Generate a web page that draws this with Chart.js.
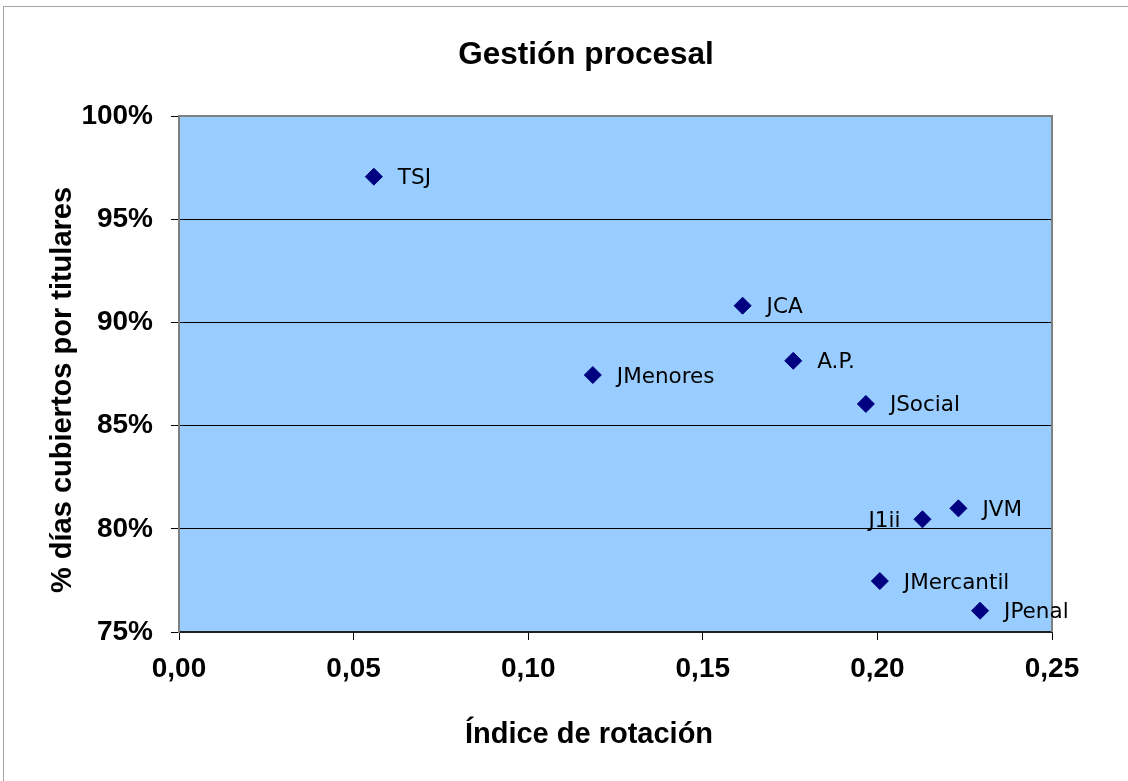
<!DOCTYPE html>
<html lang="es">
<head>
<meta charset="utf-8">
<title>Gestión procesal</title>
<script src="https://cdn.jsdelivr.net/npm/chart.js@4.4.1/dist/chart.umd.min.js"></script>
<style>
  html, body { margin: 0; padding: 0; background: #fff; }
  #marco { position: absolute; left: 3px; top: 6px; width: 1140px; height: 800px; border: 1px solid #a6a6a6; box-sizing: border-box; }
  #grafico { position: absolute; left: 0; top: 0; }
</style>
</head>
<body>
<div id="marco"></div>
<canvas id="grafico" width="1128" height="781"></canvas>
<script>
// órganos judiciales: índice de rotación frente a % de días cubiertos por titulares
const organos = ['TSJ', 'JCA', 'JMenores', 'A.P.', 'JSocial', 'J1ii', 'JVM', 'JMercantil', 'JPenal'];
const indiceRotacion = [0.0558, 0.1614, 0.1185, 0.1759, 0.1967, 0.2129, 0.2232, 0.2007, 0.2294];
const diasCubiertos = [97.06, 90.81, 87.45, 88.14, 86.05, 80.46, 80.99, 77.47, 76.03];
const etiquetasX = ['0,00', '0,05', '0,10', '0,15', '0,20', '0,25'];
const etiquetasY = ['75%', '80%', '85%', '90%', '95%', '100%'];
const etiquetaIzquierda = ['J1ii']; // estas van a la izquierda del punto

Chart.defaults.font.family = '"Liberation Sans", Arial, sans-serif';
Chart.defaults.color = '#000';

// fondo azul del área y marco gris
const fondoArea = {
  id: 'fondoArea',
  beforeDraw(chart) {
    const { ctx, chartArea: a } = chart;
    ctx.save();
    ctx.fillStyle = '#99ccff';
    ctx.fillRect(a.left, a.top, a.right - a.left, a.bottom - a.top);
    ctx.restore();
  },
  beforeDatasetsDraw(chart) {
    const { ctx, chartArea: a } = chart;
    ctx.save();
    ctx.strokeStyle = '#808080';
    ctx.lineWidth = 2;
    ctx.beginPath();
    ctx.moveTo(a.left, a.bottom);
    ctx.lineTo(a.left, a.top);
    ctx.lineTo(a.right, a.top);
    ctx.lineTo(a.right, a.bottom);
    ctx.stroke();
    ctx.restore();
  }
};

// nombre de cada órgano junto a su punto
const etiquetasPuntos = {
  id: 'etiquetasPuntos',
  afterDatasetsDraw(chart) {
    const ctx = chart.ctx;
    const meta = chart.getDatasetMeta(0);
    ctx.save();
    ctx.font = '21.5px "DejaVu Sans", Verdana, sans-serif';
    ctx.fillStyle = '#000';
    ctx.textBaseline = 'alphabetic';
    meta.data.forEach((p, i) => {
      const nombre = organos[i];
      if (etiquetaIzquierda.includes(nombre)) {
        ctx.textAlign = 'right';
        ctx.fillText(nombre, p.x - 22, p.y + 7.5);
      } else {
        ctx.textAlign = 'left';
        ctx.fillText(nombre, p.x + 24, p.y + 7.5);
      }
    });
    ctx.restore();
  }
};

// título y rótulos de los ejes
const titulos = {
  id: 'titulos',
  afterDraw(chart) {
    const ctx = chart.ctx;
    ctx.save();
    ctx.fillStyle = '#000';
    ctx.textAlign = 'center';
    ctx.textBaseline = 'alphabetic';
    ctx.font = 'bold 31.5px "Liberation Sans", Arial, sans-serif';
    ctx.fillText('Gestión procesal', 586, 64);
    ctx.font = 'bold 29px "Liberation Sans", Arial, sans-serif';
    ctx.fillText('Índice de rotación', 589, 743);
    ctx.translate(71, 390);
    ctx.rotate(-Math.PI / 2);
    ctx.fillText('% días cubiertos por titulares', 0, 0);
    ctx.restore();
  }
};

const ctx = document.getElementById('grafico').getContext('2d');
new Chart(ctx, {
  type: 'scatter',
  data: {
    datasets: [{
      data: indiceRotacion.map((x, i) => ({ x: x, y: diasCubiertos[i] })),
      pointStyle: 'rectRot',
      pointRadius: 8.5,
      pointHoverRadius: 8.5,
      backgroundColor: '#000080',
      borderColor: '#000080',
      borderWidth: 1
    }]
  },
  options: {
    responsive: false,
    animation: false,
    layout: { padding: { top: 116, right: 76, left: 0, bottom: 0 } },
    plugins: {
      legend: { display: false },
      tooltip: { enabled: false },
      title: { display: false }
    },
    scales: {
      x: {
        type: 'linear',
        min: 0,
        max: 0.25,
        ticks: {
          stepSize: 0.05,
          padding: 12,
          maxRotation: 0,
          font: { size: 28, weight: 'bold' },
          callback: (v, i) => etiquetasX[i]
        },
        grid: { drawOnChartArea: false, tickLength: 8, tickColor: '#000' },
        border: { color: '#202020', width: 2 },
        afterFit(s) { s.height = 149; }
      },
      y: {
        min: 75,
        max: 100,
        ticks: {
          stepSize: 5,
          padding: 18,
          font: { size: 28, weight: 'bold' },
          callback: (v, i) => etiquetasY[i]
        },
        grid: { color: '#000', lineWidth: 1, tickLength: 8, tickColor: '#000' },
        border: { color: '#808080', width: 2 },
        afterFit(s) { s.width = 179; }
      }
    }
  },
  plugins: [fondoArea, etiquetasPuntos, titulos]
});
</script>
</body>
</html>
